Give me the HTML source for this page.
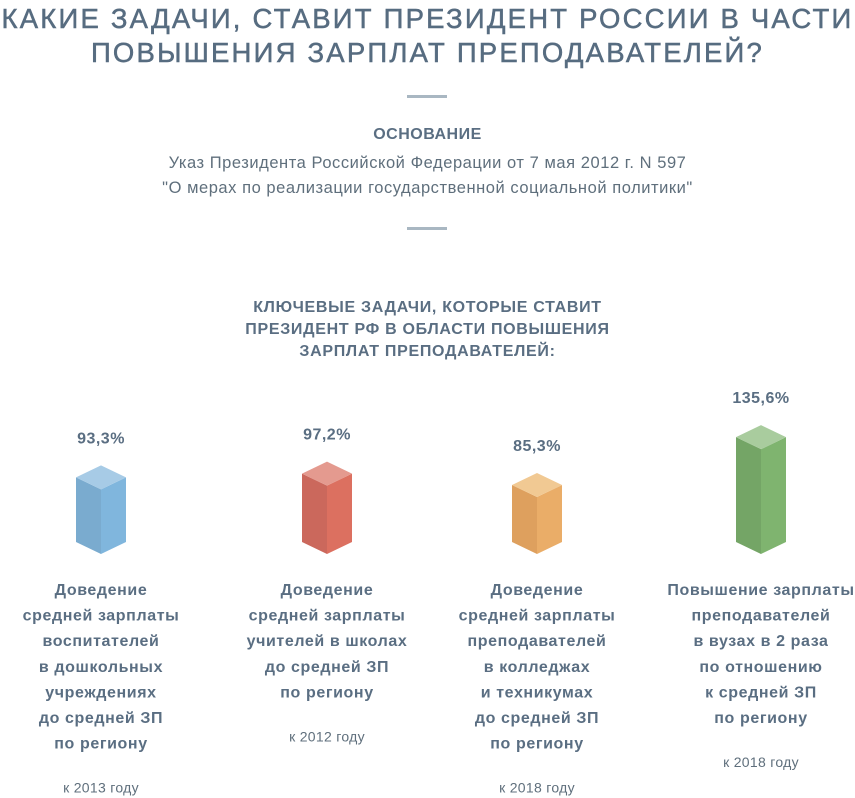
<!DOCTYPE html>
<html><head><meta charset="utf-8"><style>
body{margin:0;width:855px;height:798px;background:#fff;font-family:"Liberation Sans",sans-serif;color:#5b6e80;overflow:hidden;position:relative}
.t{position:absolute;left:0;width:855px;text-align:center}
</style></head><body>
<div style="position:absolute;left:-100px;width:1055px;text-align:center;white-space:nowrap;top:2px;font-size:27.5px;line-height:34px;letter-spacing:2.2px;color:#576c80;-webkit-text-stroke:0.5px #576c80">КАКИЕ ЗАДАЧИ, СТАВИТ ПРЕЗИДЕНТ РОССИИ В ЧАСТИ<br>ПОВЫШЕНИЯ ЗАРПЛАТ ПРЕПОДАВАТЕЛЕЙ?</div>
<div style="position:absolute;left:407px;top:95px;width:40px;height:3px;background:#a9b7c2"></div>
<div class="t" style="top:126px;font-size:16px;font-weight:bold;letter-spacing:0.5px;color:#5a6e82">ОСНОВАНИЕ</div>
<div class="t" style="top:151px;font-size:16.5px;line-height:25px;letter-spacing:0.55px;color:#5f6f7c">Указ Президента Российской Федерации от 7 мая 2012 г. N 597<br>"О мерах по реализации государственной социальной политики"</div>
<div style="position:absolute;left:407px;top:227px;width:40px;height:3px;background:#a9b7c2"></div>
<div class="t" style="top:297px;font-size:16px;line-height:22px;font-weight:bold;letter-spacing:0.7px;color:#5a6e82">КЛЮЧЕВЫЕ ЗАДАЧИ, КОТОРЫЕ СТАВИТ<br>ПРЕЗИДЕНТ РФ В ОБЛАСТИ ПОВЫШЕНИЯ<br>ЗАРПЛАТ ПРЕПОДАВАТЕЛЕЙ:</div>
<svg id="chart" width="855" height="798" style="position:absolute;left:0;top:0"></svg>
<script>
const categories=["Доведение|средней зарплаты|воспитателей|в дошкольных|учреждениях|до средней ЗП|по региону","Доведение|средней зарплаты|учителей в школах|до средней ЗП|по региону","Доведение|средней зарплаты|преподавателей|в колледжах|и техникумах|до средней ЗП|по региону","Повышение зарплаты|преподавателей|в вузах в 2 раза|по отношению|к средней ЗП|по региону"];
const values=[93.3,97.2,85.3,135.6];
const valueLabels=["93,3%","97,2%","85,3%","135,6%"];
const deadlines=["к 2013 году","к 2012 году","к 2018 году","к 2018 году"];
const colors=[["#a7cbe6","#7aabcf","#80b6dd"],["#e49a8f","#cb685c","#dc7060"],["#f1c993","#dea05e","#eaad68"],["#a9cc9e","#74a566","#7fb46f"]];
const centers=[101,327,537,761];
const base=554,scale=0.95,hw=25,d=12;
const y=v=>base-v*scale;
const svg=document.getElementById('chart');
const NS="http://www.w3.org/2000/svg";
function mk(t,a){const e=document.createElementNS(NS,t);for(const k in a)e.setAttribute(k,a[k]);svg.appendChild(e);return e;}
values.forEach((v,i)=>{
 const cx=centers[i],top=y(v),c=colors[i];
 const l=mk('polygon',{points:`${cx-hw},${top+d} ${cx},${top+2*d} ${cx},${base} ${cx-hw},${base-d}`,fill:c[1]});
 
 
 const r=mk('polygon',{points:`${cx},${top+2*d} ${cx+hw},${top+d} ${cx+hw},${base-d} ${cx},${base}`,fill:c[2]});
 
 
 const tp=mk('polygon',{points:`${cx},${top} ${cx+hw},${top+d} ${cx},${top+2*d} ${cx-hw},${top+d}`,fill:c[0]});
 
 
 const vl=mk('text',{x:cx,y:top-22,'text-anchor':'middle','font-size':16,'font-weight':'bold','letter-spacing':0.5,fill:'#5a6e82'});
 vl.textContent=valueLabels[i];
 
 
 const lines=categories[i].split('|');
 lines.forEach((ln,j)=>{
  const t=mk('text',{x:cx,y:595+j*25.6,'text-anchor':'middle','font-size':16,'font-weight':'bold','letter-spacing':0.6,fill:'#5a6e82'});
  t.textContent=ln;
  
  
 });
 const dl=mk('text',{x:cx,y:595+(lines.length-1)*25.6+44,'text-anchor':'middle','font-size':14,'letter-spacing':0.3,fill:'#5f6f7c'});
 dl.textContent=deadlines[i];
 
 
});
</script>
</body></html>
